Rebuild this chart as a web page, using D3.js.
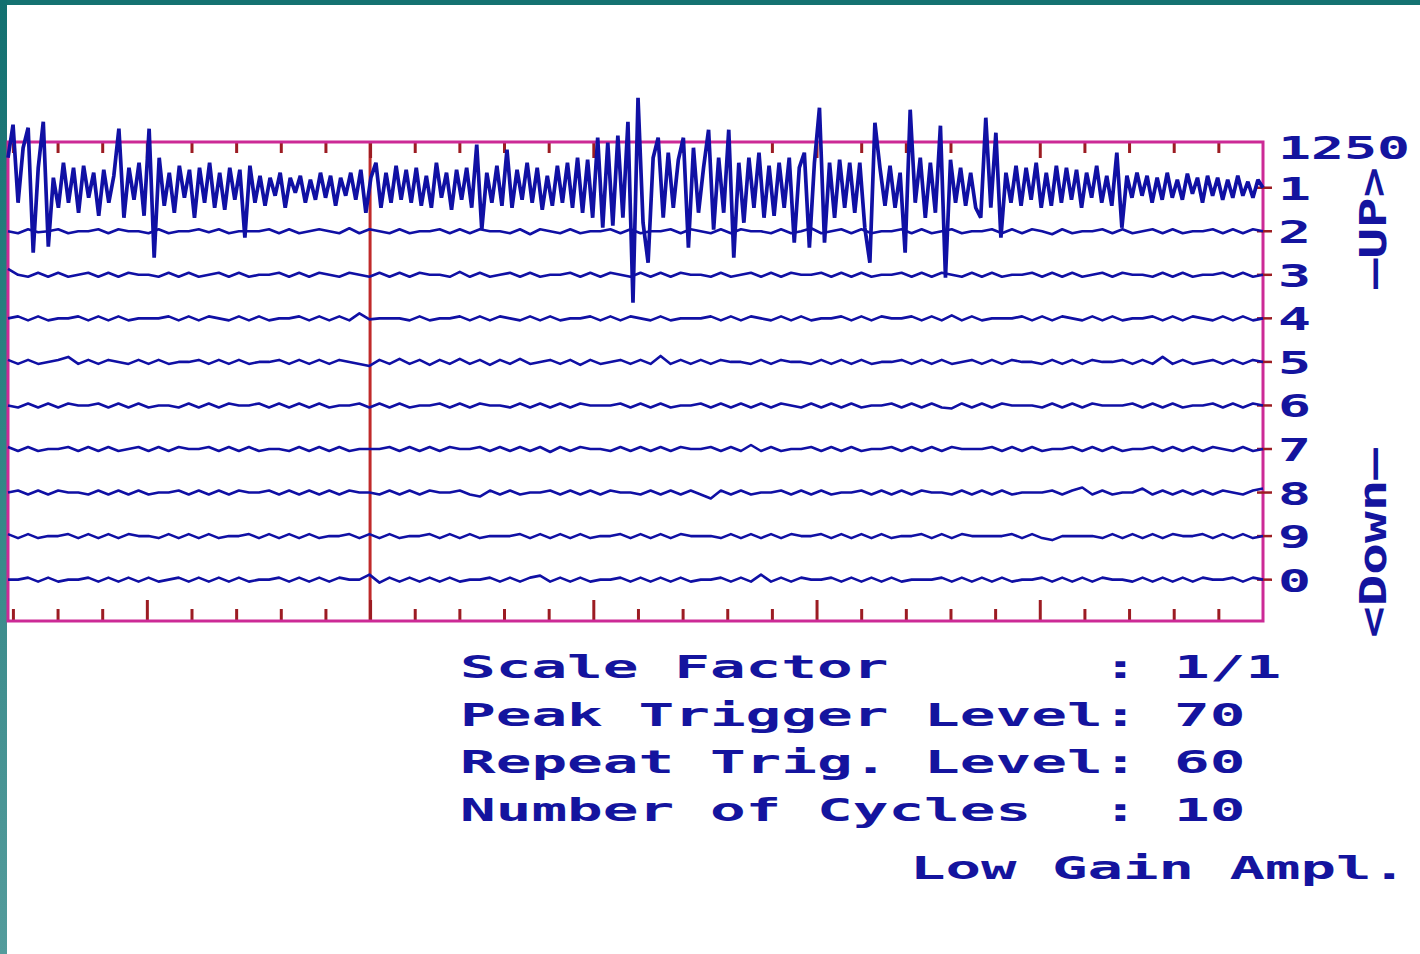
<!DOCTYPE html>
<html><head><meta charset="utf-8">
<script src="https://cdn.jsdelivr.net/npm/d3@7"></script>
<style>html,body{margin:0;padding:0;background:#fff;}svg{display:block;}</style>
</head><body>
<script>
// ---------- DATA ----------
const rowLabels = ["1","2","3","4","5","6","7","8","9","0"];
const scaleLabel = "1250";
const upLabel = "\u2014UP>";
const downLabel = "<Down\u2014";
const infoNames = ["Scale Factor","Peak Trigger Level","Repeat Trig. Level","Number of Cycles"];
const infoValues = ["1/1","70","60","10"];
const ampLabel = "Low Gain Ampl.";
const minorTicks = [0,1,2,4,5,6,7,9,10,11,12,14,15,16,17,19,20,21,22,24,25,26,27];
const majorTicks = [3,8,13,18,23];
const markerPos = [8];

// channel 1 (large), one value every ~5px
const ch1 = [30,63,-15,40,60,-65,20,66,-59,10,
 -20,25,-15,20,-25,22,-10,15,-28,18,
 -15,12,59,-30,20,-12,25,-28,59,-70,
 30,-18,15,-25,22,-10,18,-30,20,-15,
 25,-20,15,-22,20,-12,18,-50,22,-15,
 12,-18,10,-8,15,-20,10,-5,12,-15,
 8,-12,15,-10,12,-18,10,-8,15,-12,
 18,-25,10,25,-20,15,-15,22,-12,18,
 -15,20,-18,12,-20,25,-10,15,-22,18,
 -12,20,-20,43,-42,15,-15,22,-18,38,
 -20,18,-12,25,-15,20,-22,12,-18,22,
 -15,25,-20,30,-25,28,-30,50,-40,45,
 -38,52,-30,66,-115,90,-35,-75,30,50,
 -30,35,-20,28,50,-60,40,-25,20,58,
 -42,30,-25,58,-70,25,-35,30,-20,35,
 -30,22,-28,25,-20,30,-55,20,35,-60,
 25,80,-55,25,-30,28,-20,25,-25,25,
 -40,-75,65,20,-18,22,-20,15,-65,78,
 -15,30,-30,25,-25,62,-90,28,-15,20,
 -18,15,-20,-30,70,-20,55,-50,15,-15,
 22,-18,20,-12,25,-20,15,-18,22,-15,
 20,-12,18,-20,15,-10,22,-15,12,-18,
 35,-40,12,-10,15,-8,12,-15,10,-12,
 15,-10,8,-12,14,-6,10,-15,12,-8,
 10,-12,8,-10,12,-8,6,-10,8,0];

// channels 2..0 (small), one value every ~10px
const ch2 = [0,-2,2,-1,0,2,-2,0,0,2,-2,2,0,0,-2,2,-2,0,0,2,-1,
 2,-2,0,0,0,2,-2,2,-2,0,2,0,-2,3,-2,2,0,-2,2,-2,0,
 0,2,-2,2,-2,2,0,0,-2,2,-3,2,0,-2,2,-2,0,0,2,-2,2,
 -2,0,0,2,-2,2,0,-2,2,-2,2,0,0,-2,2,-2,0,3,-2,0,2,
 -2,2,-2,0,0,2,-2,2,-2,0,2,-2,0,0,2,-2,2,-2,2,0,-3,
 2,-2,0,0,2,-2,2,-2,0,2,-2,2,-2,0,0,2,-2,2,-2,2,0];
const ch3 = [6,0,-2,2,-2,2,-2,0,2,-2,2,-2,2,0,0,-2,2,-2,2,-2,0,
 2,-2,2,-2,0,0,2,-2,2,-2,2,0,-2,2,0,-2,2,-2,2,-2,2,
 0,0,-2,3,-2,2,-2,0,2,-2,2,-2,0,0,2,-2,2,-2,2,0,-2,
 2,-2,2,-2,2,0,0,-2,2,-2,0,2,-2,2,-2,2,0,0,2,-2,2,
 -2,2,-2,0,0,2,-2,2,-2,2,0,-2,2,-2,2,-2,0,0,2,-2,2,
 -2,2,-2,0,2,-2,2,0,0,-2,2,-2,2,-2,0,0,2,-2,2,-2,0];
const ch4 = [0,2,-2,2,-2,0,0,2,-2,2,-2,2,-2,0,0,0,2,-2,2,-2,2,
 0,-2,2,-2,2,-2,0,0,2,-2,2,-2,2,-2,5,-1,0,0,0,-2,2,
 -2,0,0,2,-2,2,-2,2,0,-2,2,-2,2,-2,0,0,2,-2,2,-2,2,
 0,-2,2,-2,0,0,0,2,-2,2,-2,2,0,-2,2,-2,2,-2,0,0,2,
 -2,2,-2,2,0,0,2,-2,2,-2,3,-2,2,-2,0,0,0,2,-2,2,-2,
 2,0,-2,2,-2,2,-2,0,0,2,-2,2,-2,2,0,-2,2,-2,2,-2,0];
const ch5 = [2,-2,2,-2,0,2,5,-2,2,-2,2,0,-2,2,-2,2,-2,0,0,2,-2,
 2,-2,2,-2,0,0,2,-2,2,-2,2,-2,2,0,-2,-4,2,-2,3,-2,2,
 -3,2,-2,3,-2,2,-3,2,-2,3,-2,0,2,-2,2,-3,2,-2,0,2,-2,
 2,-2,6,-2,2,-2,2,-2,2,0,0,-2,2,-2,2,0,0,-2,2,-2,2,
 -2,2,-2,0,0,2,-2,2,-2,2,-2,0,2,-2,2,-2,2,0,0,-2,2,
 -2,2,-2,2,0,0,2,-2,2,-2,5,-2,2,-2,0,2,-2,2,-2,2,0];
const ch6 = [0,-2,2,-2,2,-2,2,0,0,2,-2,2,-2,2,-2,0,0,-2,2,-2,2,
 -2,2,0,0,2,-2,2,-2,2,-2,2,-2,0,0,2,-2,2,-2,2,-2,0,
 0,2,-2,2,-2,2,0,0,-2,2,-2,2,-2,2,-2,2,0,0,0,2,-2,
 2,-2,2,-2,0,0,2,-2,2,-2,2,-2,2,-2,2,0,-2,2,-2,2,-2,
 2,-2,0,0,2,-2,2,-2,2,-2,-3,2,-2,2,-2,2,0,0,0,-2,2,
 -2,2,-2,2,0,0,0,2,-2,2,-2,2,-2,0,0,2,-2,2,-2,2,0];
const ch7 = [2,-2,2,-2,0,0,2,-2,2,-2,2,-2,0,2,-2,2,-2,2,0,0,2,
 -2,2,-2,2,-2,0,0,-2,2,-2,2,-2,2,-2,0,0,0,2,-2,2,-2,
 2,-2,2,0,0,2,-2,2,-2,2,-2,2,-3,2,-2,2,0,0,-2,2,-2,
 2,-2,2,-2,2,0,0,2,-2,2,-2,4,-2,2,-2,0,0,2,-2,2,-2,
 2,-2,0,0,2,-2,2,-2,2,-2,2,0,0,0,2,-2,2,-2,2,-2,0,
 0,2,-2,2,-2,2,-2,0,0,2,-2,2,-2,2,-2,2,0,-2,2,-2,0];
const ch8 = [0,2,-2,2,-2,2,0,0,-2,2,-2,2,-2,2,-2,0,0,2,-2,2,-2,
 2,-2,2,0,0,2,-2,2,-2,2,-2,2,-2,2,0,0,-2,2,-2,2,-2,
 2,0,0,2,-2,-4,2,-2,2,-2,0,0,2,-2,2,-2,2,-2,2,0,0,
 -2,2,-2,2,-2,2,-2,-6,2,-2,2,-2,0,0,2,-2,2,-2,2,-2,0,
 0,2,-2,2,-2,2,-2,2,0,0,-2,2,-2,2,-2,2,-2,0,0,0,2,
 -2,2,5,-2,2,-2,0,0,4,-2,2,-2,2,-2,2,-2,2,0,-2,2,4];
const ch9 = [2,-2,2,-2,0,0,2,-2,2,-2,2,-2,2,0,0,-2,2,-2,2,-2,2,
 -2,0,0,2,-2,2,-2,2,-2,2,-2,0,0,2,-2,2,-2,2,-2,0,0,
 2,-2,2,-2,2,-2,0,0,0,2,-2,2,-2,2,-2,2,-2,0,0,2,-2,
 2,-2,2,-2,2,0,0,0,-2,2,-2,2,-2,2,-2,2,0,0,2,-2,2,
 -2,2,-2,2,-2,0,0,2,-2,2,-2,2,0,0,0,0,2,-2,2,-2,-4,
 0,0,0,0,-2,2,-2,2,-2,2,-2,2,0,0,2,-2,2,-2,2,-2,0];
const ch0 = [0,0,2,-2,2,-2,0,0,2,-2,2,-2,2,-2,2,-2,0,2,-2,2,-2,
 2,-2,2,-2,0,0,2,-2,2,-2,2,-2,2,0,0,5,-3,2,-2,2,-2,
 2,-2,2,-2,0,0,2,-2,2,-2,2,4,-2,2,-2,2,-2,0,0,2,-2,
 2,-2,2,-2,2,-2,0,0,2,-2,2,-2,5,-2,2,-2,2,0,0,2,-2,
 2,-2,2,-2,2,-2,0,0,0,2,-2,2,-2,2,-2,2,-2,0,0,2,-2,
 2,-2,2,-2,2,0,0,-2,2,-2,2,-2,2,-2,2,0,0,2,-2,2,0];

// ---------- DRAW ----------
const W = 1420, H = 954;
const svg = d3.select("body").append("svg").attr("width", W).attr("height", H);

const BLUE = "#14149e", TRACE = "#1010a4", FRAME = "#cc2a96", RED = "#c02a2a", TICK = "#9c1c22";
const FONT = "'DejaVu Sans Mono', 'Liberation Mono', monospace";

// teal slide frame
const defs = svg.append("defs");
const lg = defs.append("linearGradient").attr("id","teal").attr("x1",0).attr("y1",0).attr("x2",0).attr("y2",1);
lg.append("stop").attr("offset","0%").attr("stop-color","#127070");
lg.append("stop").attr("offset","100%").attr("stop-color","#549c9c");
svg.append("rect").attr("x",0).attr("y",0).attr("width",W).attr("height",5).attr("fill","#147271");
svg.append("rect").attr("x",0).attr("y",0).attr("width",7).attr("height",H).attr("fill","url(#teal)");

const x = d3.scaleLinear().domain([-0.11, 28]).range([8, 1263]);
const y = d3.scaleLinear().domain([-0.05, 10.95]).range([142, 621]);
const amp = d3.scaleLinear().domain([-100, 100]).range([100, -100]);

const plot = svg.append("g");

// red marker line
plot.selectAll("line.marker").data(markerPos).join("line")
  .attr("x1", d => x(d)).attr("x2", d => x(d))
  .attr("y1", y(-0.05)).attr("y2", y(10.95))
  .attr("stroke", RED).attr("stroke-width", 3);

// ticks
function tickAxis(axisFn, vals, size, yPos) {
  const g = plot.append("g").attr("transform", `translate(0,${yPos})`)
    .call(axisFn(x).tickValues(vals).tickSize(size).tickFormat(""));
  g.select(".domain").remove();
  g.selectAll(".tick line").attr("stroke", TICK).attr("stroke-width", 3);
}
tickAxis(d3.axisBottom, minorTicks, 11, y(-0.05));
tickAxis(d3.axisBottom, majorTicks, 16, y(-0.05));
tickAxis(d3.axisTop, minorTicks, 12, y(10.95));
tickAxis(d3.axisTop, majorTicks, 21, y(10.95));

// frame
plot.append("rect")
  .attr("x", x(-0.11)).attr("y", y(-0.05))
  .attr("width", x(28) - x(-0.11)).attr("height", y(10.95) - y(-0.05))
  .attr("fill", "none").attr("stroke", FRAME).attr("stroke-width", 3);

// right-side row ticks
plot.selectAll("line.rt").data(d3.range(1, 11)).join("line")
  .attr("x1", x(28) - 6).attr("x2", x(28) + 9)
  .attr("y1", d => y(d)).attr("y2", d => y(d))
  .attr("stroke", TICK).attr("stroke-width", 2.5);

// small traces
const small = [ch2, ch3, ch4, ch5, ch6, ch7, ch8, ch9, ch0];
small.forEach((arr, k) => {
  const row = k + 2;
  const sx = d3.scaleLinear().domain([0, arr.length - 1]).range(x.domain());
  const line = d3.line().x((d, i) => x(sx(i))).y(d => y(row) + amp(d)).curve(d3.curveLinear);
  plot.append("path").datum(arr).attr("d", line)
    .attr("fill", "none").attr("stroke", TRACE).attr("stroke-width", 2.6)
    .attr("stroke-linejoin", "round");
});

// big trace (channel 1)
{
  const sx = d3.scaleLinear().domain([0, ch1.length - 1]).range(x.domain());
  const line = d3.line().x((d, i) => x(sx(i))).y(d => y(1) + amp(d)).curve(d3.curveLinear);
  plot.append("path").datum(ch1).attr("d", line)
    .attr("fill", "none").attr("stroke", TRACE).attr("stroke-width", 3.7)
    .attr("stroke-linejoin", "miter").attr("stroke-miterlimit", 2);
}

// right labels
const txt = svg.append("g").attr("font-family", FONT).attr("font-weight", "bold").attr("fill", BLUE);
txt.append("text").attr("x", 1278).attr("y", y(-0.05) + 17).attr("font-size", 32)
  .attr("textLength", 132).attr("lengthAdjust", "spacingAndGlyphs").text(scaleLabel);
txt.selectAll("text.row").data(rowLabels).join("text").attr("class","row")
  .attr("x", 1278).attr("y", (d, i) => y(i + 1) + 12).attr("font-size", 32)
  .attr("textLength", 33).attr("lengthAdjust", "spacingAndGlyphs").text(d => d);

txt.append("text").attr("transform", "translate(1386,289) rotate(-90)")
  .attr("font-size", 38).attr("textLength", 122).attr("lengthAdjust", "spacingAndGlyphs").text(upLabel);
txt.append("text").attr("transform", "translate(1386,638) rotate(-90)")
  .attr("font-size", 38).attr("textLength", 190).attr("lengthAdjust", "spacingAndGlyphs").text(downLabel);

// info block
const x0 = 460, cw = 35.7, base0 = 678, lh = 47.7;
infoNames.forEach((n, i) => {
  const yy = base0 + i * lh;
  txt.append("text").attr("x", x0).attr("y", yy).attr("font-size", 32)
    .attr("textLength", n.length * cw).attr("lengthAdjust", "spacingAndGlyphs").text(n);
  txt.append("text").attr("x", x0 + 18 * cw).attr("y", yy).attr("font-size", 32)
    .attr("textLength", cw).attr("lengthAdjust", "spacingAndGlyphs").text(":");
  txt.append("text").attr("x", x0 + 20 * cw).attr("y", yy).attr("font-size", 32)
    .attr("textLength", infoValues[i].length * cw).attr("lengthAdjust", "spacingAndGlyphs").text(infoValues[i]);
});
txt.append("text").attr("x", 910).attr("y", 879).attr("font-size", 32)
  .attr("textLength", ampLabel.length * 35.5).attr("lengthAdjust", "spacingAndGlyphs").text(ampLabel);
</script>
</body></html>
